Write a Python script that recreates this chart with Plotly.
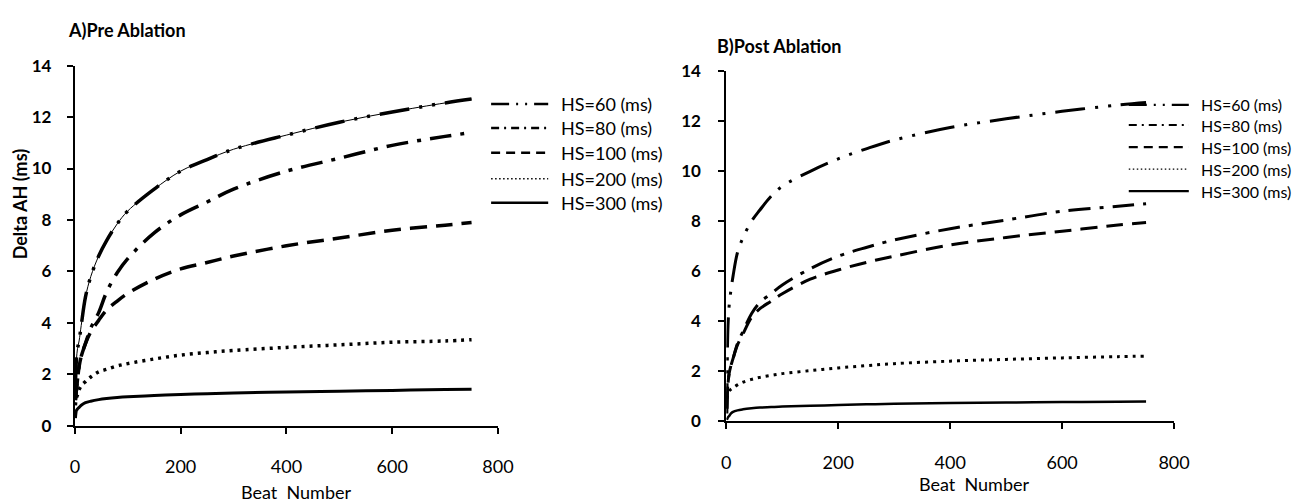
import plotly.graph_objects as go

W, H = 1316, 502

# ---------------- data ----------------
series_names = ["HS=60 (ms)", "HS=80 (ms)", "HS=100 (ms)", "HS=200 (ms)", "HS=300 (ms)"]
beats = [1, 2, 3, 5, 8, 12, 20, 30, 45, 60, 80, 100, 150, 200, 250, 300, 400, 500, 600, 700, 750]

pre_hs60 = [1.5, 2.2, 2.6, 3.0, 3.3, 3.9, 5.0, 5.8, 6.6, 7.2, 7.85, 8.35, 9.2, 9.9, 10.35, 10.75, 11.3, 11.8, 12.2, 12.55, 12.7]
pre_hs80 = [1.0, 1.2, 1.4, 1.8, 2.3, 2.7, 3.2, 3.8, 4.4, 5.2, 5.95, 6.5, 7.5, 8.2, 8.7, 9.2, 9.9, 10.4, 10.9, 11.25, 11.4]
pre_hs100 = [1.0, 1.2, 1.4, 1.8, 2.3, 2.7, 3.2, 3.65, 4.1, 4.5, 4.85, 5.15, 5.7, 6.1, 6.35, 6.6, 7.0, 7.3, 7.6, 7.8, 7.9]
pre_hs200 = [0.8, 1.0, 1.1, 1.2, 1.4, 1.55, 1.72, 1.9, 2.1, 2.2, 2.33, 2.42, 2.6, 2.75, 2.85, 2.93, 3.05, 3.15, 3.25, 3.3, 3.35]
pre_hs300 = [0.3, 0.5, 0.6, 0.66, 0.72, 0.8, 0.9, 0.96, 1.02, 1.06, 1.1, 1.13, 1.18, 1.22, 1.25, 1.28, 1.32, 1.35, 1.38, 1.41, 1.42]

post_hs60 = [0.3, 2.8, 3.8, 4.6, 5.2, 5.8, 6.75, 7.35, 8.0, 8.45, 9.0, 9.4, 10.0, 10.5, 10.9, 11.25, 11.75, 12.1, 12.4, 12.65, 12.75]
post_hs80 = [0.5, 1.2, 1.5, 1.9, 2.2, 2.5, 3.1, 3.6, 4.3, 4.75, 5.1, 5.45, 6.1, 6.6, 6.95, 7.25, 7.7, 8.05, 8.4, 8.6, 8.7]
post_hs100 = [0.5, 1.2, 1.5, 1.9, 2.2, 2.5, 3.05, 3.5, 4.15, 4.5, 4.8, 5.1, 5.68, 6.05, 6.35, 6.6, 7.05, 7.35, 7.6, 7.85, 7.95]
post_hs200 = [0.9, 1.0, 1.1, 1.2, 1.27, 1.33, 1.45, 1.56, 1.67, 1.75, 1.83, 1.9, 2.02, 2.13, 2.22, 2.3, 2.4, 2.47, 2.53, 2.58, 2.6]
post_hs300 = [0.05, 0.1, 0.15, 0.2, 0.3, 0.37, 0.43, 0.47, 0.51, 0.54, 0.56, 0.58, 0.61, 0.64, 0.67, 0.69, 0.72, 0.74, 0.76, 0.77, 0.78]

x_ticks = [0, 200, 400, 600, 800]
y_ticks = [0, 2, 4, 6, 8, 10, 12, 14]

pre_series = [pre_hs60, pre_hs80, pre_hs100, pre_hs200, pre_hs300]
post_series = [post_hs60, post_hs80, post_hs100, post_hs200, post_hs300]

# ---------------- styles ----------------
curve_styles = [
    dict(dash="30px,10px,3px,10px,3px,10px", width=3.5),
    dict(dash="22px,9px,4px,9px", width=3.5),
    dict(dash="17px,9px", width=3.5),
    dict(dash="3px,5px", width=3.5),
    dict(dash="solid", width=3),
]
legend_styles = [
    dict(dash="18px,7px,2px,7px,2px,7px", width=2.5),
    dict(dash="8px,5px,2px,5px", width=2.5),
    dict(dash="9px,6px", width=2.5),
    dict(dash="1.5px,2.5px", width=1.5),
    dict(dash="solid", width=2.5),
]

FONT = "Lato"


def px(x):
    return x / W


def py(y):
    return 1 - y / H


fig = go.Figure()

# thin underlying line for HS=60 pre
fig.add_trace(go.Scatter(x=beats, y=pre_hs60, mode="lines", line=dict(color="black", width=1, shape="spline"),
                         xaxis="x", yaxis="y", showlegend=False, hoverinfo="skip"))

for name, vals, st in zip(series_names, pre_series, curve_styles):
    fig.add_trace(go.Scatter(x=beats, y=vals, mode="lines", name=name,
                             line=dict(color="black", width=st["width"], dash=st["dash"], shape="spline"),
                             xaxis="x", yaxis="y", showlegend=False))
for name, vals, st in zip(series_names, post_series, curve_styles):
    fig.add_trace(go.Scatter(x=beats, y=vals, mode="lines", name=name,
                             line=dict(color="black", width=st["width"] - 0.5, dash=st["dash"], shape="spline"),
                             xaxis="x2", yaxis="y2", showlegend=False))

axis_common = dict(showline=True, linecolor="black", linewidth=2, ticks="outside", ticklen=6, tickwidth=2,
                   tickcolor="black", showgrid=False, zeroline=False)

fig.update_layout(
    width=W, height=H, autosize=False,
    margin=dict(l=0, r=0, t=0, b=0),
    paper_bgcolor="white", plot_bgcolor="white",
    font=dict(family=FONT, color="black"),
    showlegend=False,
    xaxis=dict(domain=[px(71), px(501)], range=[0, 800], tickvals=x_ticks, anchor="y",
               tickfont=dict(size=18, family=FONT), ticklabelstandoff=18, **axis_common),
    yaxis=dict(domain=[py(433), py(57)], range=[0, 14], tickvals=y_ticks, anchor="x",
               tickfont=dict(size=17, family=FONT, weight="bold"), ticklabelstandoff=12, **axis_common),
    xaxis2=dict(domain=[px(733), px(1188)], range=[0, 800], tickvals=x_ticks, anchor="y2",
                tickfont=dict(size=18, family=FONT), ticklabelstandoff=18, **axis_common),
    yaxis2=dict(domain=[py(428), py(63)], range=[0, 14], tickvals=y_ticks, anchor="x2",
                tickfont=dict(size=17, family=FONT, weight="bold"), ticklabelstandoff=14, **axis_common),
)

annotations = [
    dict(text="<b>A)Pre Ablation</b>", x=px(62), y=py(20), xanchor="left", yanchor="middle",
         font=dict(size=18, family=FONT)),
    dict(text="<b>B)Post Ablation</b>", x=px(722), y=py(37), xanchor="left", yanchor="middle",
         font=dict(size=18, family=FONT)),
    dict(text="<b>Delta AH (ms)</b>", x=px(15), y=py(202), xanchor="center", yanchor="middle", textangle=-90,
         font=dict(size=18, family=FONT)),
    dict(text="Beat  Number", x=px(296), y=py(502), xanchor="center", yanchor="middle",
         font=dict(size=18, family=FONT)),
    dict(text="Beat  Number", x=px(985), y=py(494), xanchor="center", yanchor="middle",
         font=dict(size=18, family=FONT)),
]

shapes = []
left_rows = [97, 122, 148, 175, 200]
right_rows = [98, 119, 142, 165, 188]
for name, st, yl, yr in zip(series_names, legend_styles, left_rows, right_rows):
    shapes.append(dict(type="line", xref="paper", yref="paper", x0=px(494), x1=px(552), y0=py(yl), y1=py(yl),
                       line=dict(color="black", width=st["width"], dash=st["dash"])))
    annotations.append(dict(text=name, x=px(563), y=py(yl), xanchor="left", yanchor="middle",
                            font=dict(size=18, family=FONT)))
    shapes.append(dict(type="line", xref="paper", yref="paper", x0=px(1142), x1=px(1203), y0=py(yr), y1=py(yr),
                       line=dict(color="black", width=st["width"] - 0.3, dash=st["dash"])))
    annotations.append(dict(text=name, x=px(1213), y=py(yr), xanchor="left", yanchor="middle",
                            font=dict(size=16, family=FONT)))

for a in annotations:
    a.setdefault("xref", "paper")
    a.setdefault("yref", "paper")
    a.setdefault("showarrow", False)

fig.update_layout(annotations=annotations, shapes=shapes)

fig.write_html("out.html")
